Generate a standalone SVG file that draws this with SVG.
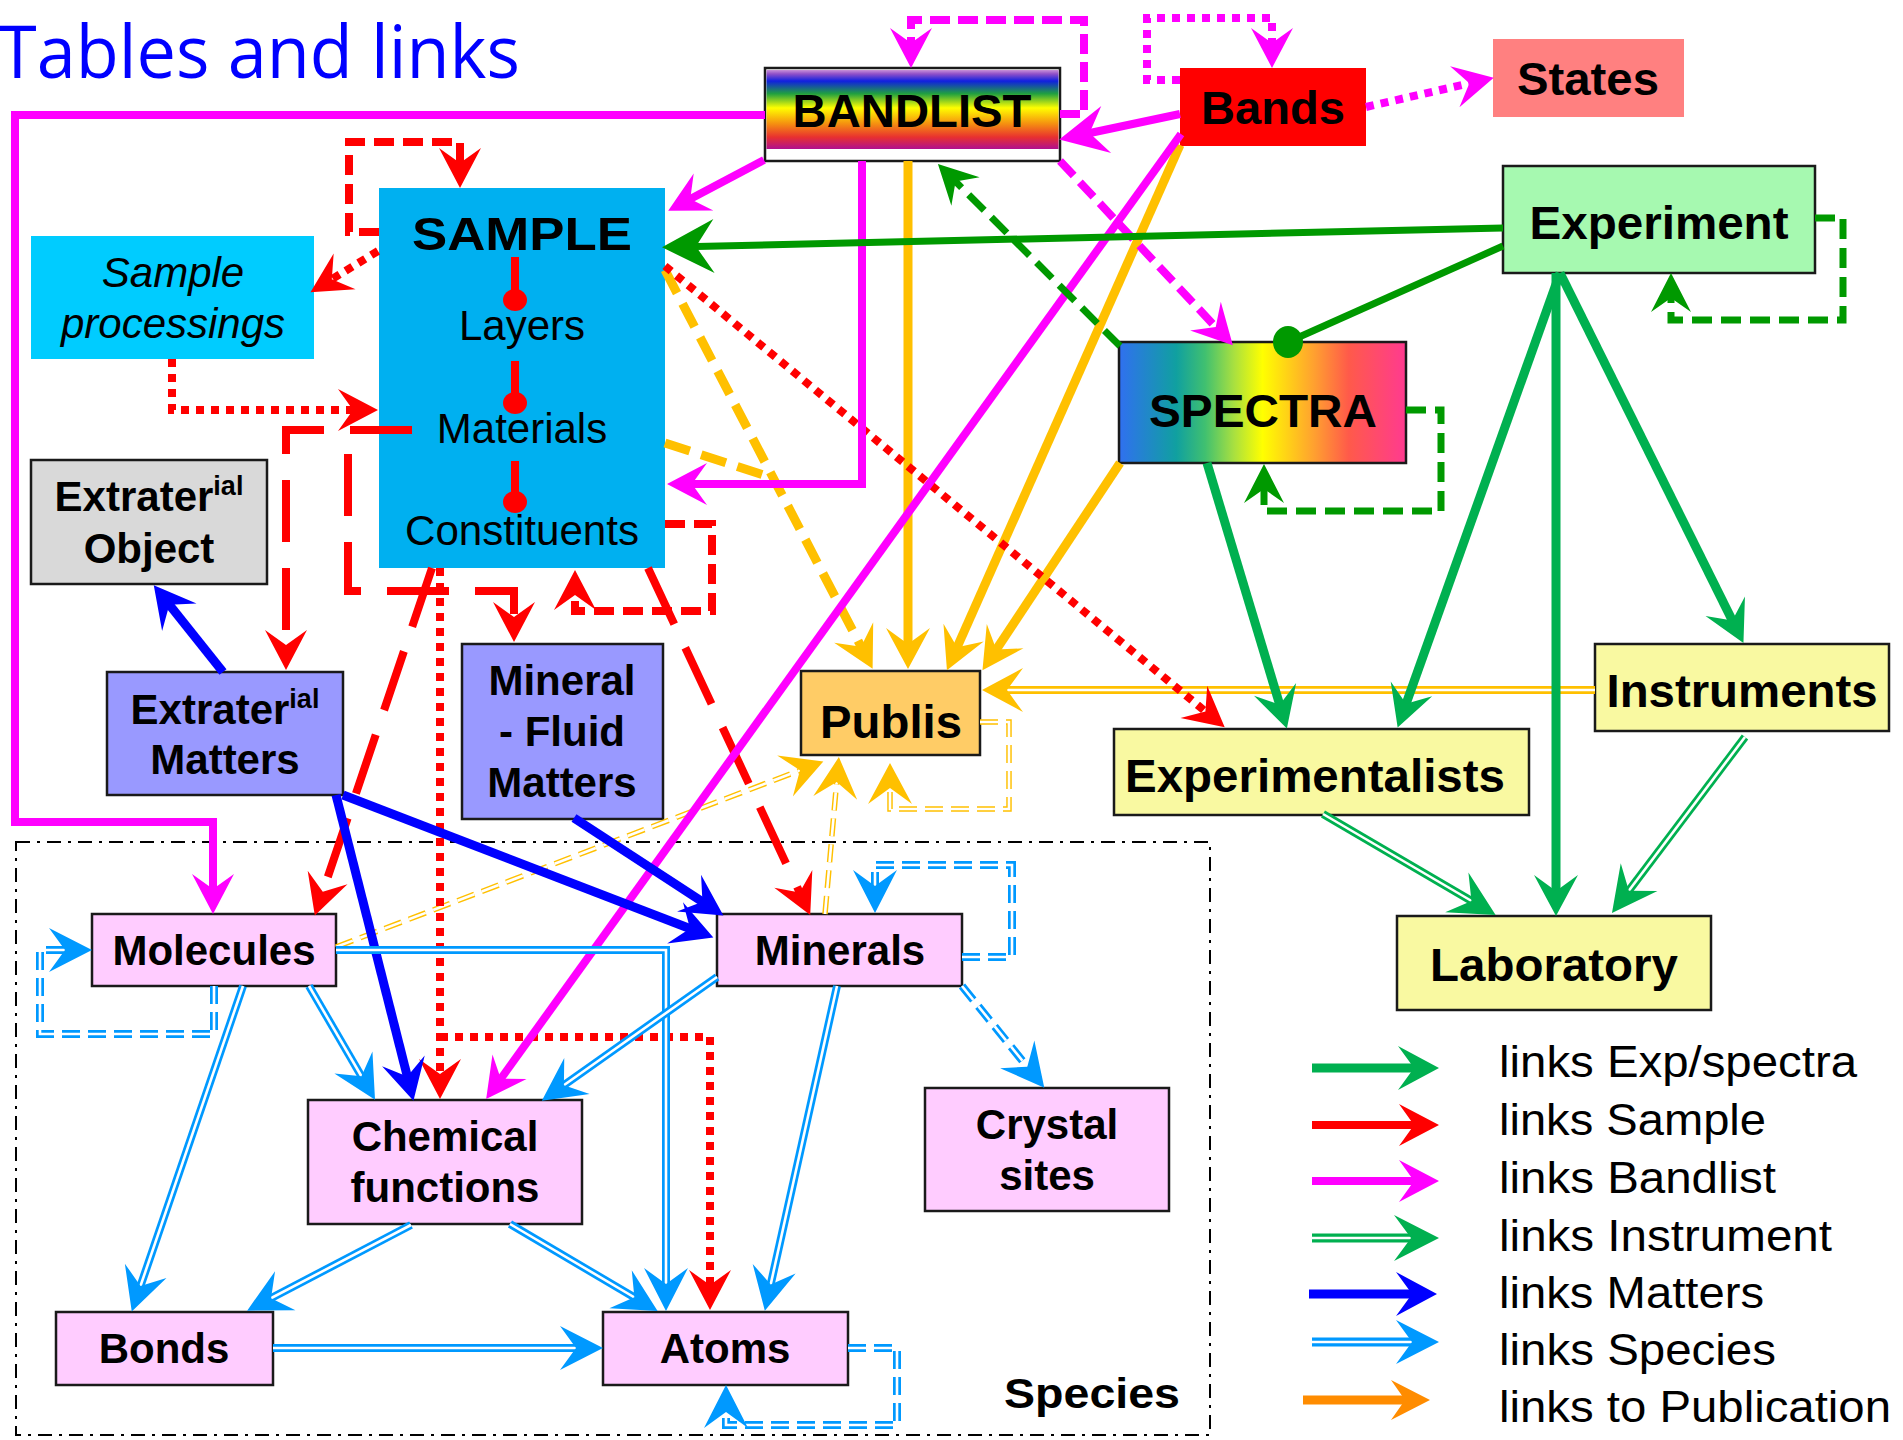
<svg xmlns="http://www.w3.org/2000/svg" width="1903" height="1440" viewBox="0 0 1903 1440">
<style>
text{font-family:"Liberation Sans",Arial,sans-serif;fill:#000}
.t47{font-size:46px;font-weight:bold;text-anchor:middle}
.t42{font-size:42px;font-weight:bold;text-anchor:middle}
.r42{font-size:42px;text-anchor:middle}
.i42{font-size:42px;font-style:italic;text-anchor:middle}
.sup{font-size:27px}
.leg{font-size:45px}
.box{stroke:#1a1a1a;stroke-width:2.5}
.c{fill:none;stroke-linejoin:miter}
.mag{stroke:#FF00FF;stroke-width:8}
.red{stroke:#FF0000;stroke-width:8}
.yel{stroke:#FFC000;stroke-width:9}
.dg{stroke:#009900;stroke-width:7}
.gr{stroke:#00B050;stroke-width:9}
.blu{stroke:#0000FF;stroke-width:9}
.o2{stroke-width:8}
.w2{stroke:#fff;stroke-width:2.6}
.lb{stroke:#0099FF}
.yl{stroke:#FFC000}
.gn{stroke:#00B050}
.dash{stroke-dasharray:20 9}
.dot{stroke-dasharray:8 7}
.ldash{stroke-dasharray:62 26}
.ddash{stroke-dasharray:18 8}
</style>
<defs>
<linearGradient id="rainbow" x1="0" y1="0" x2="0" y2="1">
<stop offset="0" stop-color="#C890D8"/>
<stop offset="0.05" stop-color="#9050C8"/>
<stop offset="0.14" stop-color="#1020E0"/>
<stop offset="0.3" stop-color="#20A040"/>
<stop offset="0.48" stop-color="#FFFF00"/>
<stop offset="0.68" stop-color="#F59010"/>
<stop offset="0.85" stop-color="#E83030"/>
<stop offset="1" stop-color="#B0108F"/>
</linearGradient>
<linearGradient id="spec" x1="0" y1="0" x2="1" y2="0">
<stop offset="0" stop-color="#3070F0"/>
<stop offset="0.2" stop-color="#10A0A0"/>
<stop offset="0.3" stop-color="#40C070"/>
<stop offset="0.4" stop-color="#A8E040"/>
<stop offset="0.5" stop-color="#FFFF00"/>
<stop offset="0.68" stop-color="#FFA030"/>
<stop offset="0.8" stop-color="#FF5A4A"/>
<stop offset="1" stop-color="#FF3A90"/>
</linearGradient>
<marker id="mM" markerUnits="userSpaceOnUse" orient="auto" viewBox="-50 -30 100 60" markerWidth="100" markerHeight="60" refX="0" refY="0"><path d="M10,0 L-30,-21 L-15,0 L-30,21 Z" fill="#FF00FF"/></marker>
<marker id="mMb" markerUnits="userSpaceOnUse" orient="auto" viewBox="-50 -30 100 60" markerWidth="100" markerHeight="60" refX="0" refY="0"><path d="M12,0 L-36,-24 L-19,0 L-36,24 Z" fill="#FF00FF"/></marker>
<marker id="mR" markerUnits="userSpaceOnUse" orient="auto" viewBox="-50 -30 100 60" markerWidth="100" markerHeight="60" refX="0" refY="0"><path d="M10,0 L-30,-21 L-15,0 L-30,21 Z" fill="#FF0000"/></marker>
<marker id="mY" markerUnits="userSpaceOnUse" orient="auto" viewBox="-50 -30 100 60" markerWidth="100" markerHeight="60" refX="0" refY="0"><path d="M10,0 L-31,-22 L-15,0 L-31,22 Z" fill="#FFC000"/></marker>
<marker id="mDG" markerUnits="userSpaceOnUse" orient="auto" viewBox="-50 -30 100 60" markerWidth="100" markerHeight="60" refX="0" refY="0"><path d="M10,0 L-29,-20 L-15,0 L-29,20 Z" fill="#009900"/></marker>
<marker id="mDGb" markerUnits="userSpaceOnUse" orient="auto" viewBox="-60 -30 100 60" markerWidth="100" markerHeight="60" refX="0" refY="0"><path d="M12,0 L-40,-27 L-22,0 L-40,27 Z" fill="#009900"/></marker>
<marker id="mG" markerUnits="userSpaceOnUse" orient="auto" viewBox="-50 -30 100 60" markerWidth="100" markerHeight="60" refX="0" refY="0"><path d="M10,0 L-31,-22 L-15,0 L-31,22 Z" fill="#00B050"/></marker>
<marker id="mB" markerUnits="userSpaceOnUse" orient="auto" viewBox="-50 -30 100 60" markerWidth="100" markerHeight="60" refX="0" refY="0"><path d="M10,0 L-31,-22 L-15,0 L-31,22 Z" fill="#0000FF"/></marker>
<marker id="mLB" markerUnits="userSpaceOnUse" orient="auto" viewBox="-50 -30 100 60" markerWidth="100" markerHeight="60" refX="0" refY="0"><path d="M10,0 L-33,-22 L-17,0 L-33,22 Z" fill="#0099FF"/></marker>
<marker id="mO" markerUnits="userSpaceOnUse" orient="auto" viewBox="-50 -30 100 60" markerWidth="100" markerHeight="60" refX="0" refY="0"><path d="M10,0 L-29,-20 L-15,0 L-29,20 Z" fill="#FF8C00"/></marker>
<marker id="mGd" markerUnits="userSpaceOnUse" orient="auto" viewBox="-50 -30 100 60" markerWidth="100" markerHeight="60" refX="0" refY="0"><path d="M10,0 L-35,-23 L-18,0 L-35,23 Z" fill="#00B050"/></marker>
</defs>

<text x="-2" y="78" font-family="'Open Sans','Noto Sans',sans-serif" font-size="74" fill="#0000FF" style="fill:#0000FF;font-family:'Open Sans','Noto Sans',sans-serif" textLength="522" lengthAdjust="spacingAndGlyphs">Tables and links</text>

<g id="species-frame"><rect x="16" y="842" width="1194" height="593" fill="none" stroke="#000" stroke-width="2" stroke-dasharray="14 7 3 7"/>
<text x="1092" y="1408" class="t42" font-size="44" textLength="176" lengthAdjust="spacingAndGlyphs">Species</text></g>

<g id="bandlist"><rect x="765" y="68" width="295" height="93" fill="#fff" class="box"/><rect x="766.5" y="70" width="292" height="79" fill="url(#rainbow)"/><text x="912" y="127" class="t47" textLength="239" lengthAdjust="spacingAndGlyphs">BANDLIST</text></g>
<g id="bands"><rect x="1180" y="68" width="186" height="78" fill="#FF0000"/><text x="1273" y="124" class="t47" textLength="144" lengthAdjust="spacingAndGlyphs">Bands</text></g>
<g id="states"><rect x="1493" y="39" width="191" height="78" fill="#FF8080"/><text x="1588" y="95" class="t47" textLength="142" lengthAdjust="spacingAndGlyphs">States</text></g>
<g id="sample"><rect x="379" y="188" width="286" height="380" fill="#00B0F0"/>
<text x="522" y="250" class="t47" font-size="53" textLength="220" lengthAdjust="spacingAndGlyphs">SAMPLE</text>
<text x="522" y="340" class="r42">Layers</text>
<text x="522" y="443" class="r42">Materials</text>
<text x="522" y="545" class="r42" textLength="234" lengthAdjust="spacingAndGlyphs">Constituents</text>
<g stroke="#FF0000" stroke-width="8" fill="#FF0000"><line x1="515" y1="257" x2="515" y2="296"/><ellipse cx="515" cy="300" rx="12" ry="11" stroke="none"/><line x1="515" y1="361" x2="515" y2="399"/><ellipse cx="515" cy="403" rx="12" ry="11" stroke="none"/><line x1="515" y1="461" x2="515" y2="498"/><ellipse cx="515" cy="502" rx="12" ry="11" stroke="none"/></g></g>
<g id="sample-processings"><rect x="31" y="236" width="283" height="123" fill="#00CCFF"/><text x="173" y="287" class="i42">Sample</text><text x="173" y="338" class="i42">processings</text></g>
<g id="extraterial-object"><rect x="31" y="460" width="236" height="124" fill="#D9D9D9" class="box"/><text x="149" y="511" class="t42">Extrater<tspan class="sup" dy="-16">ial</tspan></text><text x="149" y="563" class="t42">Object</text></g>
<g id="extraterial-matters"><rect x="107" y="672" width="236" height="123" fill="#9999FF" class="box"/><text x="225" y="724" class="t42">Extrater<tspan class="sup" dy="-16">ial</tspan></text><text x="225" y="774" class="t42">Matters</text></g>
<g id="mineral-fluid-matters"><rect x="462" y="644" width="201" height="175" fill="#9999FF" class="box"/><text x="562" y="695" class="t42">Mineral</text><text x="562" y="746" class="t42">- Fluid</text><text x="562" y="797" class="t42">Matters</text></g>
<g id="publis"><rect x="801" y="671" width="179" height="84" fill="#FFCC66" class="box"/><text x="891" y="738" class="t47" textLength="142" lengthAdjust="spacingAndGlyphs">Publis</text></g>
<g id="spectra"><rect x="1119" y="342" width="287" height="121" fill="url(#spec)" class="box"/><text x="1263" y="427" class="t47" textLength="228" lengthAdjust="spacingAndGlyphs">SPECTRA</text></g>
<g id="experiment"><rect x="1503" y="166" width="312" height="107" fill="#A6F9B0" class="box"/><text x="1659" y="239" class="t47" textLength="259" lengthAdjust="spacingAndGlyphs">Experiment</text></g>
<g id="instruments"><rect x="1595" y="644" width="294" height="87" fill="#F9F9A1" class="box"/><text x="1742" y="707" class="t47" font-size="45" textLength="271" lengthAdjust="spacingAndGlyphs">Instruments</text></g>
<g id="experimentalists"><rect x="1114" y="729" width="415" height="86" fill="#F9F9A1" class="box"/><text x="1315" y="792" class="t47" font-size="45" textLength="380" lengthAdjust="spacingAndGlyphs">Experimentalists</text></g>
<g id="laboratory"><rect x="1397" y="916" width="314" height="94" fill="#F9F9A1" class="box"/><text x="1554" y="981" class="t47" font-size="45" textLength="248" lengthAdjust="spacingAndGlyphs">Laboratory</text></g>
<g id="molecules"><rect x="92" y="914" width="244" height="72" fill="#FFCCFF" class="box"/><text x="214" y="965" class="t42">Molecules</text></g>
<g id="minerals"><rect x="717" y="914" width="245" height="72" fill="#FFCCFF" class="box"/><text x="840" y="965" class="t42">Minerals</text></g>
<g id="chemical-functions"><rect x="308" y="1100" width="274" height="124" fill="#FFCCFF" class="box"/><text x="445" y="1151" class="t42">Chemical</text><text x="445" y="1202" class="t42">functions</text></g>
<g id="crystal-sites"><rect x="925" y="1088" width="244" height="123" fill="#FFCCFF" class="box"/><text x="1047" y="1139" class="t42">Crystal</text><text x="1047" y="1190" class="t42">sites</text></g>
<g id="bonds"><rect x="56" y="1312" width="217" height="73" fill="#FFCCFF" class="box"/><text x="164" y="1363" class="t42">Bonds</text></g>
<g id="atoms"><rect x="603" y="1312" width="245" height="73" fill="#FFCCFF" class="box"/><text x="725" y="1363" class="t42">Atoms</text></g>

<g id="connectors" class="c" fill="none">
<!-- yellow to Publis -->
<path class="c yel" d="M908,161 V659" marker-end="url(#mY)"/>
<path class="c yel" d="M1180,145 L951,661" marker-end="url(#mY)"/>
<path class="c yel" d="M1120,463 L988,662" marker-end="url(#mY)"/>
<path class="c yel" stroke-width="7" stroke-dasharray="26 12" d="M665,270 L868,660" marker-end="url(#mY)"/>
<path class="c yel" stroke-width="7" stroke-dasharray="26 12" d="M665,443 L770,477"/>
<path class="c yl o2" stroke-width="7" d="M1595,690 H992"/><path class="c w2" d="M1595,690 H992" marker-end="url(#mY)"/>
<path class="c yl ddash" stroke-width="5.5" d="M980,722 H1009 V809 H890 V773"/><path class="c w2 ddash" stroke-width="2" d="M980,722 H1009 V809 H890 V773" marker-end="url(#mY)"/>
<path class="c yl ddash" stroke-width="5.5" d="M336,947 L814,765"/><path class="c w2 ddash" stroke-width="2" d="M336,947 L814,765" marker-end="url(#mY)"/>
<path class="c yl ddash" stroke-width="5.5" d="M825,914 L838,767"/><path class="c w2 ddash" stroke-width="2" d="M825,914 L838,767" marker-end="url(#mY)"/>

<!-- red (Sample) -->
<path class="c red dash" d="M379,232 H349 V142 H460 V178" marker-end="url(#mR)"/>
<path class="c red dot" d="M378,251 L319,287" marker-end="url(#mR)"/>
<path class="c red dot" d="M172,359 V410 H368" marker-end="url(#mR)"/>
<path class="c red ldash" d="M412,430 H286 V660" marker-end="url(#mR)"/>
<path class="c red ldash" d="M412,430 H348 V591 H514 V632" marker-end="url(#mR)"/>
<path class="c red ldash" d="M432,568 L318,906" marker-end="url(#mR)"/>
<path class="c red dot" d="M440,568 V1089" marker-end="url(#mR)"/>
<path class="c red dot" d="M440,1037 H710 V1300" marker-end="url(#mR)"/>
<path class="c red ldash" d="M648,568 L806,906" marker-end="url(#mR)"/>
<path class="c red dash" d="M665,524 H712 V611 H575 V580" marker-end="url(#mR)"/>
<path class="c red dot" d="M665,266 L1217,721" marker-end="url(#mR)"/>

<!-- magenta (Bandlist) -->
<path class="c mag" d="M765,115 H15 V822 H213 V904" marker-end="url(#mM)"/>
<path class="c mag" d="M764,160 L677,206" marker-end="url(#mM)"/>
<path class="c mag" d="M862,161 V484 H677" marker-end="url(#mM)"/>
<path class="c mag" stroke-width="11" d="M1180,114 L1071,137" marker-end="url(#mMb)"/>
<path class="c mag" stroke-width="6.5" stroke-dasharray="20 8" d="M1060,114 H1084 V20 H911 V58" marker-end="url(#mM)"/>
<path class="c mag dot" stroke-width="6.5" d="M1180,80 H1147 V18 H1272 V58" marker-end="url(#mM)"/>
<path class="c mag dot" d="M1366,107 L1484,80" marker-end="url(#mM)"/>
<path class="c mag" stroke-width="6.5" stroke-dasharray="20 9" d="M1060,161 L1226,338" marker-end="url(#mM)"/>
<path class="c mag" stroke-width="7.5" d="M1181,134 L492,1091" marker-end="url(#mM)"/>

<!-- green (Exp/spectra) -->
<path class="c dg" stroke-width="10" d="M1503,228 L674,247" marker-end="url(#mDGb)"/>
<path class="c dg" stroke-width="10" d="M1503,246 L1288,342"/>
<ellipse cx="1288" cy="342" rx="15" ry="16" fill="#009900"/>
<path class="c dg" stroke-width="6.5" stroke-dasharray="22 10" d="M1120,346 L945,171" marker-end="url(#mDG)"/>
<path class="c dg" stroke-width="6.5" stroke-dasharray="20 9" d="M1406,410 H1441 V511 H1264 V474" marker-end="url(#mDG)"/>
<path class="c dg" stroke-width="6.5" stroke-dasharray="20 9" d="M1815,218 H1843 V320 H1671 V283" marker-end="url(#mDG)"/>
<path class="c gr" d="M1560,273 L1401,718" marker-end="url(#mG)"/>
<path class="c gr" d="M1556,273 V906" marker-end="url(#mG)"/>
<path class="c gr" d="M1560,273 L1739,634" marker-end="url(#mG)"/>
<path class="c gr" d="M1207,463 L1284,719" marker-end="url(#mG)"/>
<path class="c gn o2" d="M1323,814 L1487,910"/><path class="c w2" d="M1323,814 L1487,910" marker-end="url(#mGd)"/>
<path class="c gn o2" d="M1745,737 L1618,905"/><path class="c w2" d="M1745,737 L1618,905" marker-end="url(#mGd)"/>

<!-- blue (Matters) -->
<path class="c blu" d="M223,672 L160,593" marker-end="url(#mB)"/>
<path class="c blu" d="M343,795 L704,934" marker-end="url(#mB)"/>
<path class="c blu" d="M574,818 L715,910" marker-end="url(#mB)"/>
<path class="c blu" stroke-width="8" d="M336,795 L411,1091" marker-end="url(#mB)"/>

<!-- light blue (Species) -->
<path class="c lb o2 ddash" d="M214,986 V1034 H40 V950 H82"/><path class="c w2 ddash" d="M214,986 V1034 H40 V950 H82" marker-end="url(#mLB)"/>
<path class="c lb o2" d="M336,950 H666 V1301"/><path class="c w2" d="M336,950 H666 V1301" marker-end="url(#mLB)"/>
<path class="c lb o2" d="M243,986 L135,1302"/><path class="c w2" d="M243,986 L135,1302" marker-end="url(#mLB)"/>
<path class="c lb o2" d="M309,986 L370,1091"/><path class="c w2" d="M309,986 L370,1091" marker-end="url(#mLB)"/>
<path class="c lb o2" d="M717,977 L550,1095"/><path class="c w2" d="M717,977 L550,1095" marker-end="url(#mLB)"/>
<path class="c lb o2" d="M837,986 L767,1301"/><path class="c w2" d="M837,986 L767,1301" marker-end="url(#mLB)"/>
<path class="c lb o2 ddash" d="M962,986 L1038,1080"/><path class="c w2 ddash" d="M962,986 L1038,1080" marker-end="url(#mLB)"/>
<path class="c lb o2 ddash" d="M962,957 H1012 V865 H875 V903"/><path class="c w2 ddash" d="M962,957 H1012 V865 H875 V903" marker-end="url(#mLB)"/>
<path class="c lb o2" d="M411,1225 L256,1306"/><path class="c w2" d="M411,1225 L256,1306" marker-end="url(#mLB)"/>
<path class="c lb o2" d="M510,1224 L649,1306"/><path class="c w2" d="M510,1224 L649,1306" marker-end="url(#mLB)"/>
<path class="c lb o2" d="M273,1348 H593"/><path class="c w2" d="M273,1348 H593" marker-end="url(#mLB)"/>
<path class="c lb o2 ddash" d="M848,1348 H897 V1425 H726 V1395"/><path class="c w2 ddash" d="M848,1348 H897 V1425 H726 V1395" marker-end="url(#mLB)"/>
</g>

<g id="legend">
<path class="c gr" stroke-width="9" d="M1312,1068 H1429" marker-end="url(#mG)"/>
<text x="1499" y="1077" class="leg" textLength="358" lengthAdjust="spacingAndGlyphs">links Exp/spectra</text>
<path class="c red" stroke-width="9" d="M1312,1125 H1429" marker-end="url(#mR)"/>
<text x="1499" y="1135" class="leg" textLength="267" lengthAdjust="spacingAndGlyphs">links Sample</text>
<path class="c mag" stroke-width="9" d="M1312,1181 H1429" marker-end="url(#mM)"/>
<text x="1499" y="1193" class="leg" textLength="277" lengthAdjust="spacingAndGlyphs">links Bandlist</text>
<path class="c gn" stroke-width="9" d="M1312,1238 H1429"/><path class="c w2" stroke-width="3" d="M1312,1238 H1429" marker-end="url(#mGd)"/>
<text x="1499" y="1251" class="leg" textLength="333" lengthAdjust="spacingAndGlyphs">links Instrument</text>
<path class="c blu" stroke-width="9" d="M1309,1294 H1427" marker-end="url(#mB)"/>
<text x="1499" y="1308" class="leg" textLength="265" lengthAdjust="spacingAndGlyphs">links Matters</text>
<path class="c lb" stroke-width="9" d="M1312,1342 H1429"/><path class="c w2" stroke-width="3" d="M1312,1342 H1429" marker-end="url(#mLB)"/>
<text x="1499" y="1365" class="leg" textLength="277" lengthAdjust="spacingAndGlyphs">links Species</text>
<path class="c" stroke="#FF8C00" stroke-width="9" d="M1303,1400 H1420" marker-end="url(#mO)"/>
<text x="1499" y="1422" class="leg" textLength="392" lengthAdjust="spacingAndGlyphs">links to Publication</text>
</g>
</svg>
